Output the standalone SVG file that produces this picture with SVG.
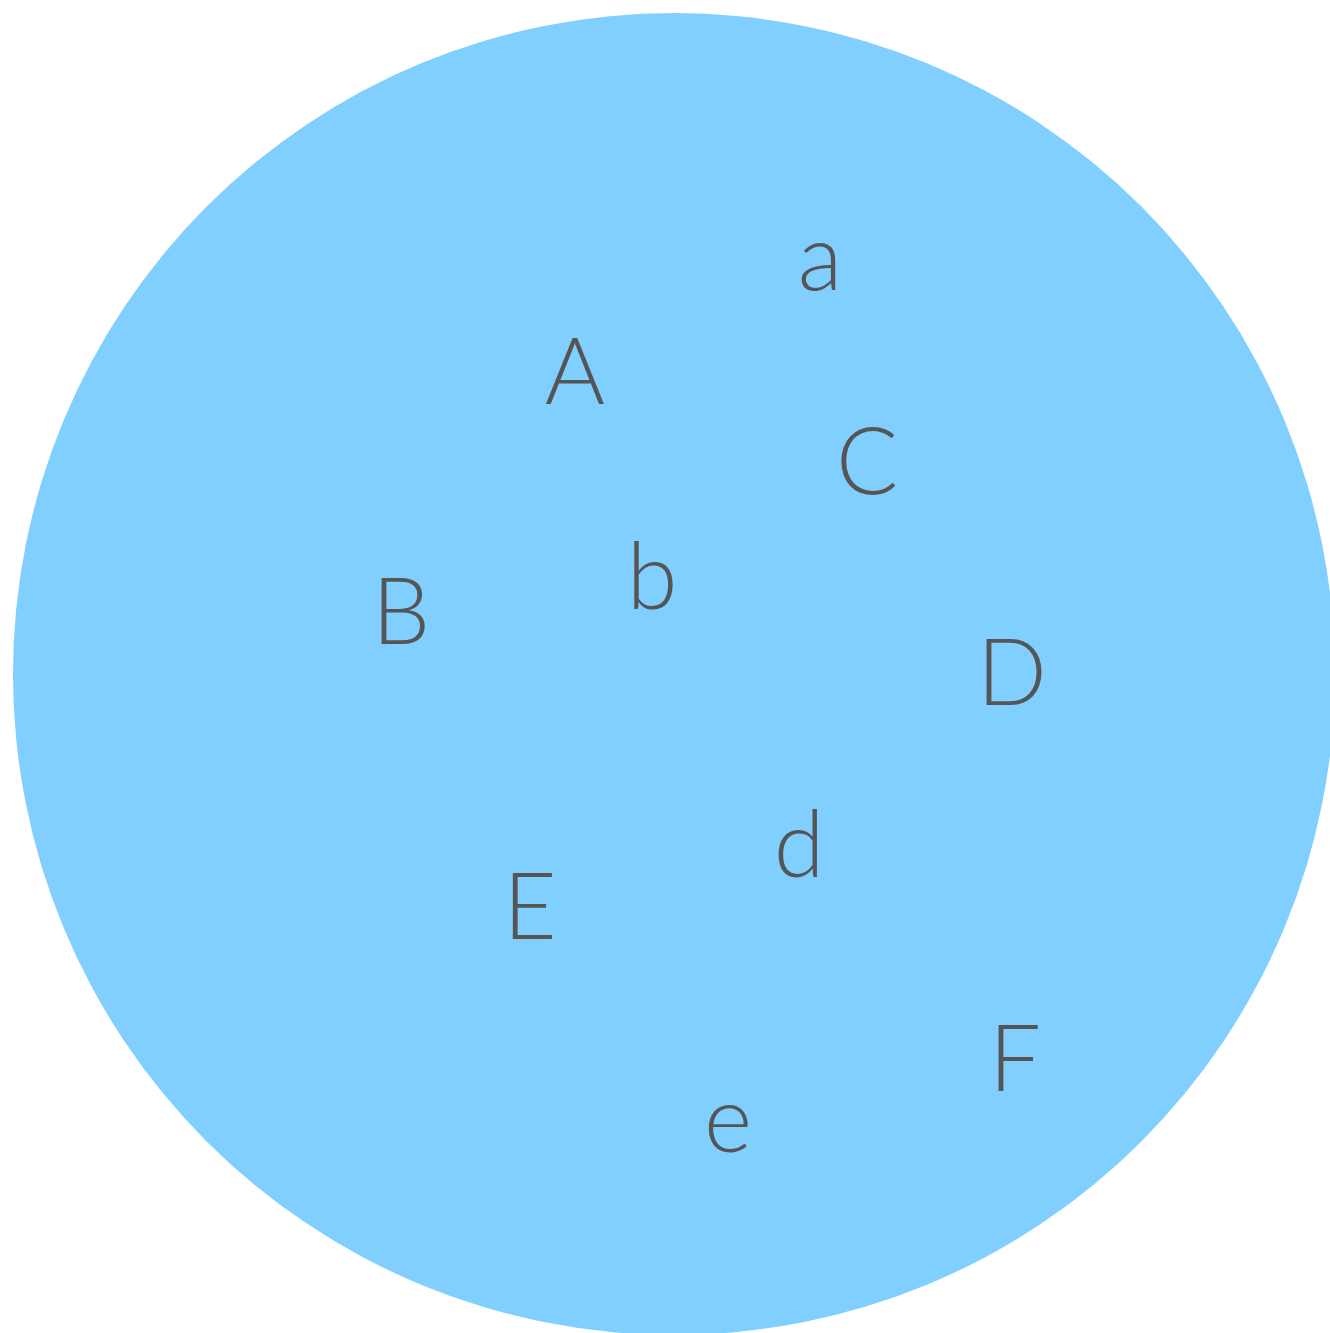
<svg xmlns="http://www.w3.org/2000/svg" width="1330" height="1333" viewBox="0 0 1330 1333">
<style>
.lbl{font-family:Lato,"Open Sans","Liberation Sans",sans-serif;font-weight:300;font-size:92px;fill:#555555;text-anchor:middle}
</style>
<rect width="1330" height="1333" fill="#ffffff"/>
<g id="set">
<circle cx="674" cy="674" r="661" fill="#80CFFE"/>
</g>
<g id="connectors"></g>
<g id="node-a"><text class="lbl" x="820" y="290">a</text></g>
<g id="node-A"><text class="lbl" x="575" y="404">A</text></g>
<g id="node-C"><text class="lbl" x="867" y="494">C</text></g>
<g id="node-b"><text class="lbl" x="652" y="609">b</text></g>
<g id="node-B"><text class="lbl" x="401" y="644">B</text></g>
<g id="node-D"><text class="lbl" x="1012" y="705">D</text></g>
<g id="node-d"><text class="lbl" x="799" y="877">d</text></g>
<g id="node-E"><text class="lbl" x="530" y="939">E</text></g>
<g id="node-F"><text class="lbl" x="1015" y="1091">F</text></g>
<g id="node-e"><text class="lbl" x="728" y="1152">e</text></g>
</svg>
